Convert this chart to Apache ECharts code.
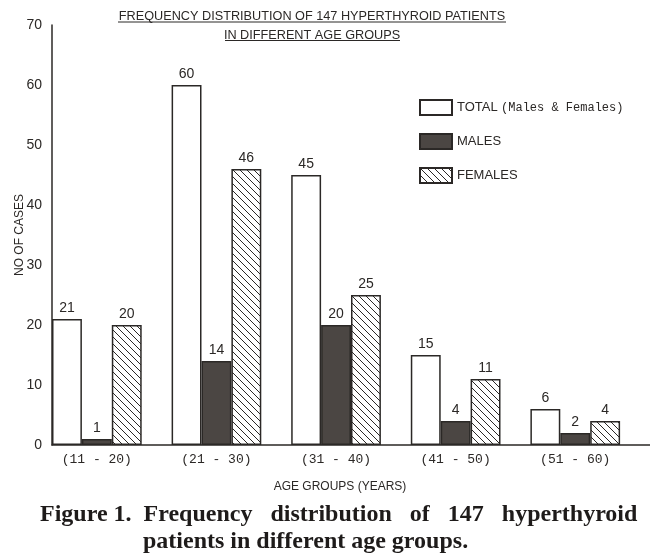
<!DOCTYPE html>
<html lang="en" style="height: 100%">
  <head>
    <meta charset="utf-8" />
  </head>
  <body style="height: 100%; margin: 0; background: #fff">
    <div id="container" style="width: 650px; height: 560px"></div>

    <script
      type="text/javascript"
      src="https://cdn.jsdelivr.net/npm/echarts@6/dist/echarts.min.js"
    ></script>
    <script type="text/javascript">
      var dom = document.getElementById("container");
      var myChart = echarts.init(dom, null, { renderer: "canvas" });

      // data
      const ageGroups = ["(11 - 20)", "(21 - 30)", "(31 - 40)", "(41 - 50)", "(51 - 60)"];
      const totalCases = [21, 60, 45, 15, 6];
      const maleCases = [1, 14, 20, 4, 2];
      const femaleCases = [20, 46, 25, 11, 4];
      const yTicks = { min: 0, max: 70, interval: 10 };

      const ink = "#2b2826";
      const typeFont = "'Liberation Sans', sans-serif";
      const monoFont = "'Liberation Mono', 'DejaVu Sans Mono', monospace";
      const serifFont = "'Liberation Serif', 'DejaVu Serif', serif";

      // diagonal hatching for the females bars
      function hatch() {
        const size = 7;
        const c = document.createElement("canvas");
        c.width = size;
        c.height = size;
        const ctx = c.getContext("2d");
        ctx.fillStyle = "#fff";
        ctx.fillRect(0, 0, size, size);
        ctx.strokeStyle = ink;
        ctx.lineWidth = 1;
        ctx.beginPath();
        ctx.moveTo(-1, -1);
        ctx.lineTo(size + 1, size + 1);
        ctx.moveTo(-1, size - 1);
        ctx.lineTo(1, size + 1);
        ctx.moveTo(size - 1, -1);
        ctx.lineTo(size + 1, 1);
        ctx.stroke();
        return c;
      }

      const barLabel = {
        show: true,
        position: "top",
        distance: 4,
        color: ink,
        fontFamily: typeFont,
        fontSize: 14,
      };

      var option = {
        backgroundColor: "#fff",
        animation: false,
        title: [
          {
            text: "FREQUENCY DISTRIBUTION OF 147 HYPERTHYROID PATIENTS\nIN DIFFERENT AGE GROUPS",
            left: 307,
            top: 2,
            textAlign: "center",
            textStyle: {
              color: ink,
              fontFamily: typeFont,
              fontWeight: "normal",
              fontSize: 12.7,
              lineHeight: 19,
            },
          },
          {
            text: "Figure 1.  Frequency   distribution   of   147   hyperthyroid",
            left: 35,
            top: 498,
            textStyle: {
              color: "#1e1b1a",
              fontFamily: serifFont,
              fontWeight: "bold",
              fontSize: 24,
            },
          },
          {
            text: "patients in different age groups.",
            left: 138,
            top: 525,
            textStyle: {
              color: "#1e1b1a",
              fontFamily: serifFont,
              fontWeight: "bold",
              fontSize: 24,
            },
          },
        ],
        // underlines of the typed heading
        graphic: [
          {
            type: "line",
            shape: { x1: 118, y1: 22, x2: 506, y2: 22 },
            style: { stroke: ink, lineWidth: 1 },
          },
          {
            type: "line",
            shape: { x1: 225, y1: 40.5, x2: 400, y2: 40.5 },
            style: { stroke: ink, lineWidth: 1 },
          },
        ],
        legend: {
          orient: "vertical",
          left: 414,
          top: 94,
          icon: "rect",
          itemWidth: 32,
          itemHeight: 15,
          itemGap: 17,
          data: ["TOTAL (Males & Females)", "MALES", "FEMALES"],
          formatter: function (name) {
            if (name.indexOf("(") > 0) {
              return "{a|TOTAL} {b|(Males & Females)}";
            }
            return "{a|" + name + "}";
          },
          textStyle: {
            color: ink,
            rich: {
              a: { fontFamily: typeFont, fontSize: 13, color: ink },
              b: { fontFamily: monoFont, fontSize: 12, color: ink },
            },
          },
        },
        grid: {
          left: 52,
          right: 0,
          top: 25,
          bottom: 115,
          outerBoundsMode: "none",
        },
        xAxis: {
          type: "category",
          data: ageGroups,
          name: "AGE GROUPS (YEARS)",
          nameLocation: "middle",
          nameGap: 36,
          nameTextStyle: {
            color: ink,
            fontFamily: typeFont,
            fontSize: 12,
            padding: [0, 22, 0, 0],
          },
          axisLine: { lineStyle: { color: ink, width: 1.5 } },
          axisTick: { show: false },
          axisLabel: {
            color: ink,
            fontFamily: monoFont,
            fontSize: 13,
            margin: 8,
            padding: [0, 30, 0, 0],
          },
        },
        yAxis: {
          type: "value",
          min: yTicks.min,
          max: yTicks.max,
          interval: yTicks.interval,
          name: "NO OF CASES",
          nameLocation: "middle",
          nameRotate: 90,
          nameGap: 26,
          nameMoveOverlap: false,
          nameTextStyle: {
            color: ink,
            fontFamily: typeFont,
            fontSize: 12,
          },
          axisLine: { show: true, lineStyle: { color: ink, width: 1.5 } },
          axisTick: { show: false },
          splitLine: { show: false },
          axisLabel: {
            color: ink,
            fontFamily: typeFont,
            fontSize: 14,
            margin: 10,
          },
        },
        series: [
          {
            name: "TOTAL (Males & Females)",
            type: "bar",
            data: totalCases,
            barGap: "0%",
            barCategoryGap: "0%",
            itemStyle: { color: "#fff", borderColor: ink, borderWidth: 1.5 },
            label: barLabel,
          },
          {
            name: "MALES",
            type: "bar",
            data: maleCases,
            barGap: "0%",
            barCategoryGap: "0%",
            itemStyle: { color: "#4b4643", borderColor: ink, borderWidth: 1.5 },
            label: barLabel,
          },
          {
            name: "FEMALES",
            type: "bar",
            data: femaleCases,
            barGap: "0%",
            barCategoryGap: "0%",
            itemStyle: {
              color: { image: hatch(), repeat: "repeat" },
              borderColor: ink,
              borderWidth: 1.5,
            },
            label: barLabel,
          },
          {
            // empty slot: keeps the gap after each group of three bars
            name: "spacer",
            type: "bar",
            data: [],
            barGap: "0%",
            barCategoryGap: "0%",
            silent: true,
          },
        ],
      };

      myChart.setOption(option);
      window.addEventListener("resize", myChart.resize);
    </script>
  </body>
</html>
